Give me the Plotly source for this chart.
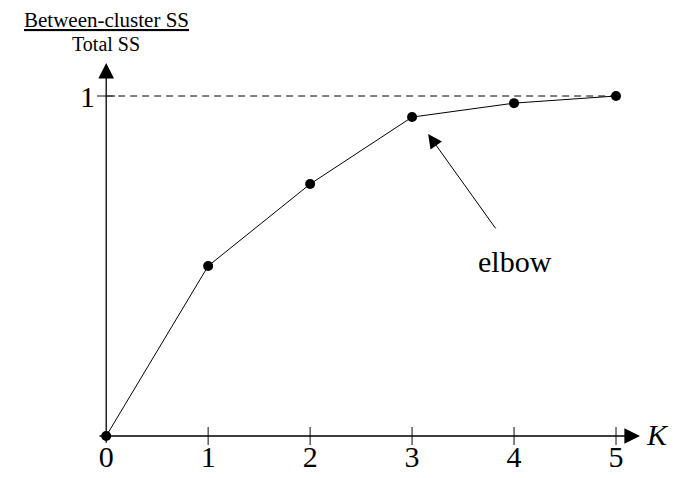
import plotly.graph_objects as go

K = [0, 1, 2, 3, 4, 5]
ratio = [0.0, 0.50, 0.741, 0.938, 0.979, 1.0]
x_ticks = [0, 1, 2, 3, 4, 5]
x_tick_labels = ["0", "1", "2", "3", "4", "5"]
y_ticks = [1]
y_tick_labels = ["1"]

FONT = "Liberation Serif"
AX = "#333333"

fig = go.Figure()

# dashed reference line at 1
fig.add_trace(go.Scatter(x=[K[0], K[-1]], y=[1, 1], mode="lines",
                         line=dict(color="black", width=1, dash="7px,5px"),
                         hoverinfo="skip", showlegend=False))

# tick marks on axes
fig.add_trace(go.Scatter(x=x_ticks[1:], y=[0] * (len(x_ticks) - 1), mode="markers",
                         marker=dict(symbol="line-ns-open", size=13, color=AX,
                                     line=dict(color=AX, width=1.2)),
                         hoverinfo="skip", showlegend=False, cliponaxis=False))
fig.add_trace(go.Scatter(x=[0] * len(y_ticks), y=y_ticks, mode="markers",
                         marker=dict(symbol="line-ew-open", size=13, color=AX,
                                     line=dict(color=AX, width=1.2)),
                         hoverinfo="skip", showlegend=False, cliponaxis=False))

# data
fig.add_trace(go.Scatter(x=K, y=ratio, mode="lines+markers",
                         line=dict(color="black", width=1),
                         marker=dict(color="black", size=10),
                         showlegend=False, cliponaxis=False))

ann = []
# axes with arrows
ann.append(dict(x=5.235, y=0, ax=-0.08, ay=0, xref="x", yref="y", axref="x", ayref="y",
                text="", showarrow=True, arrowhead=2, arrowsize=2.4, arrowwidth=1.3,
                arrowcolor="black", standoff=0, startstandoff=0))
ann.append(dict(x=0, y=1.097, ax=0, ay=-0.024, xref="x", yref="y", axref="x", ayref="y",
                text="", showarrow=True, arrowhead=2, arrowsize=2.4, arrowwidth=1.3,
                arrowcolor="black", standoff=0, startstandoff=0))
# elbow arrow
ann.append(dict(x=3.157, y=0.888, ax=3.83, ay=0.606, xref="x", yref="y", axref="x", ayref="y",
                text="", showarrow=True, arrowhead=2, arrowsize=2.8, arrowwidth=1,
                arrowcolor="black", standoff=0, startstandoff=0))
ann.append(dict(x=4.01, y=0.512, xref="x", yref="y", text="elbow", showarrow=False,
                font=dict(family=FONT, size=30, color="black")))
# axis labels
ann.append(dict(x=5.41, y=0.003, xref="x", yref="y", text="<i>K</i>", showarrow=False,
                font=dict(family=FONT, size=30, color="black")))
ann.append(dict(x=0, y=1.0, xref="x", yref="paper", yanchor="middle", yshift=42,
                text="<u>Between-cluster SS</u>", showarrow=False, borderpad=0,
                font=dict(family=FONT, size=21, color="black")))
ann.append(dict(x=0, y=1.0, xref="x", yref="paper", yanchor="middle", yshift=18,
                text="Total SS", showarrow=False, borderpad=0,
                font=dict(family=FONT, size=20, color="black")))
fig.update_layout(annotations=ann)

fig.update_layout(
    width=689, height=478,
    margin=dict(l=88, r=30, t=54, b=50, autoexpand=False),
    paper_bgcolor="white", plot_bgcolor="white",
    xaxis=dict(range=[-0.1, 5.5], showgrid=False, zeroline=False, showline=False,
               automargin=False,
               tickvals=x_ticks, ticktext=x_tick_labels, ticks="",
               tickfont=dict(family=FONT, size=30, color="black")),
    yaxis=dict(range=[0, 1.1], showgrid=False, zeroline=False, showline=False,
               automargin=False,
               tickvals=y_ticks, ticktext=y_tick_labels, ticks="",
               tickfont=dict(family=FONT, size=30, color="black")),
)

fig.write_html("out.html")
